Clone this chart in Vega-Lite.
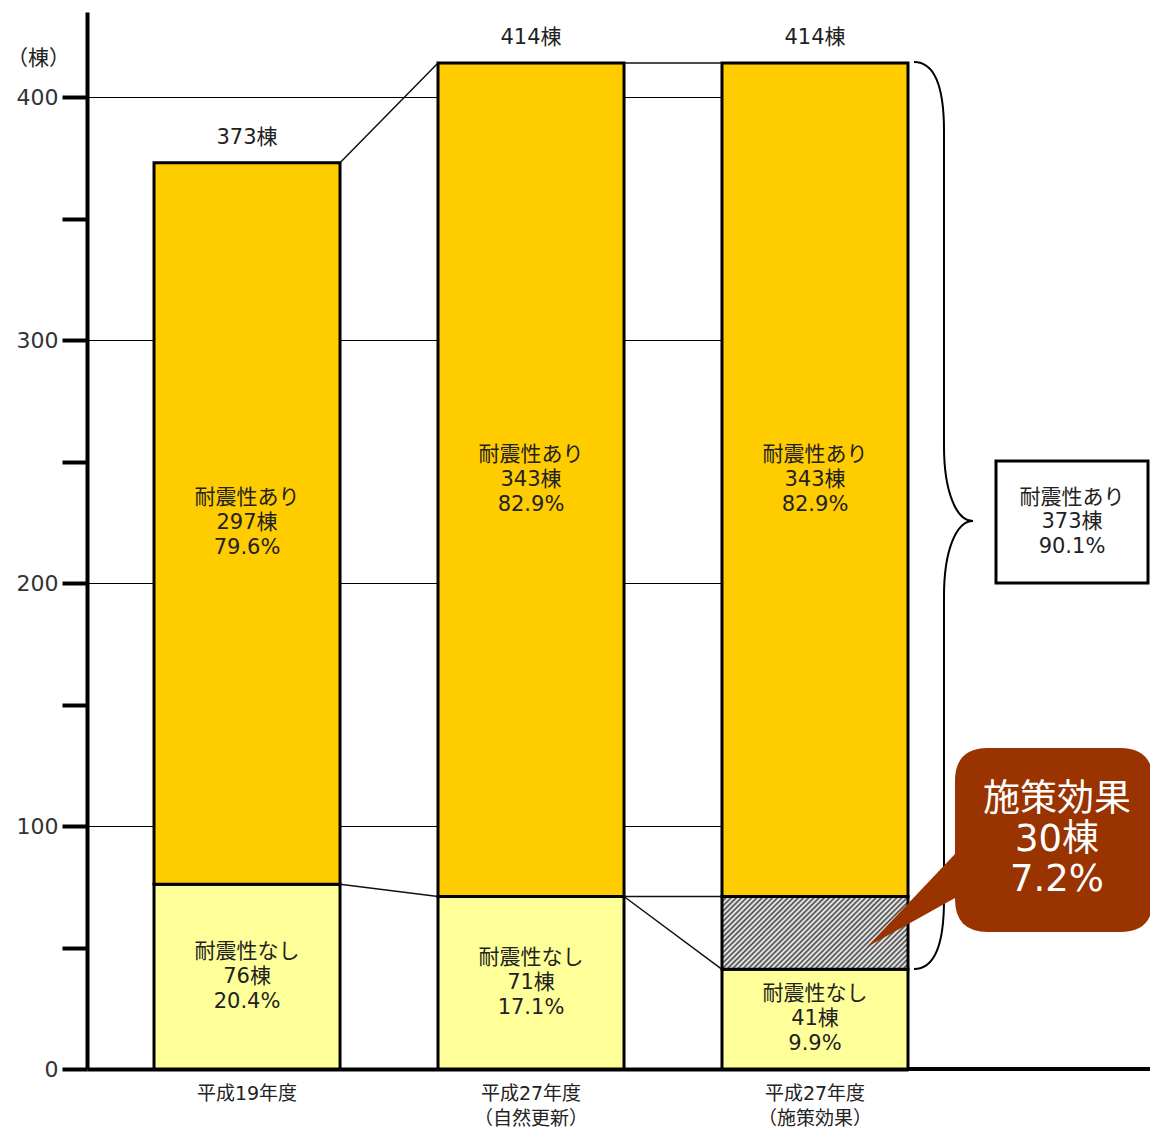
{
  "$schema": "https://vega.github.io/schema/vega-lite/v6.json",
  "width": 821,
  "height": 1057,
  "autosize": {"type": "none"},
  "padding": {"left": 87, "top": 12, "right": 242, "bottom": 62},
  "background": "white",
  "config": {
    "view": {"stroke": null},
    "font": "DejaVu Sans, Noto Sans CJK JP"
  },
  "datasets": {
    "segments": [
      {"年度": "平成19年度", "種別": "耐震性なし", "下": 0, "上": 76, "棟数": 76, "割合": 20.4},
      {"年度": "平成19年度", "種別": "耐震性あり", "下": 76, "上": 373, "棟数": 297, "割合": 79.6},
      {"年度": "平成27年度（自然更新）", "種別": "耐震性なし", "下": 0, "上": 71, "棟数": 71, "割合": 17.1},
      {"年度": "平成27年度（自然更新）", "種別": "耐震性あり", "下": 71, "上": 414, "棟数": 343, "割合": 82.9},
      {"年度": "平成27年度（施策効果）", "種別": "耐震性なし", "下": 0, "上": 41, "棟数": 41, "割合": 9.9},
      {"年度": "平成27年度（施策効果）", "種別": "施策効果", "下": 41, "上": 71, "棟数": 30, "割合": 7.2},
      {"年度": "平成27年度（施策効果）", "種別": "耐震性あり", "下": 71, "上": 414, "棟数": 343, "割合": 82.9}
    ],
    "totals": [
      {"年度": "平成19年度", "合計": 373},
      {"年度": "平成27年度（自然更新）", "合計": 414},
      {"年度": "平成27年度（施策効果）", "合計": 414}
    ],
    "links": [
      {"左": "平成19年度", "右": "平成27年度（自然更新）", "左値": 373, "右値": 414},
      {"左": "平成19年度", "右": "平成27年度（自然更新）", "左値": 76, "右値": 71},
      {"左": "平成27年度（自然更新）", "右": "平成27年度（施策効果）", "左値": 414, "右値": 414},
      {"左": "平成27年度（自然更新）", "右": "平成27年度（施策効果）", "左値": 71, "右値": 71},
      {"左": "平成27年度（自然更新）", "右": "平成27年度（施策効果）", "左値": 71, "右値": 41}
    ]
  },
  "layer": [
    {
      "data": {"name": "segments"},
      "transform": [{"filter": "datum['種別'] !== '施策効果'"}],
      "mark": {"type": "bar", "stroke": "black", "strokeWidth": 3},
      "encoding": {
        "x": {
          "field": "年度", "type": "nominal",
          "scale": {
            "domain": ["平成19年度", "平成27年度（自然更新）", "平成27年度（施策効果）"],
            "paddingInner": 0.345, "paddingOuter": 0.118, "align": 1
          },
          "axis": {
            "title": null, "domain": true, "domainWidth": 4, "domainColor": "black",
            "ticks": false, "labelAngle": 0,
            "labelFontSize": 19, "labelColor": "#222", "labelPadding": 15,
            "labelBaseline": "top", "labelLineHeight": 25, "labelFont": "DejaVu Sans, Noto Sans CJK JP",
            "labelExpr": "indexof(datum.label, '（') > 0 ? [substring(datum.label, 0, indexof(datum.label, '（')), substring(datum.label, indexof(datum.label, '（'))] : datum.label"
          }
        },
        "y": {
          "field": "下", "type": "quantitative",
          "scale": {"domain": [0, 435], "nice": false},
          "axis": {
            "title": "（棟）", "titleAngle": 0, "titleX": -49, "titleY": 46,
            "titleAlign": "center", "titleBaseline": "middle", "titleFontSize": 21,
            "titleFontWeight": "normal", "titleColor": "#222", "titleFont": "Noto Sans CJK JP",
            "values": [0, 50, 100, 150, 200, 250, 300, 350, 400],
            "labelExpr": "datum.value % 100 === 0 ? datum.label : ''",
            "format": "d",
            "labelFontSize": 22, "labelColor": "#333", "labelFont": "DejaVu Sans", "labelPadding": 4,
            "tickSize": 25, "tickWidth": 4, "tickColor": "black",
            "domainWidth": 4, "domainColor": "black",
            "grid": true, "gridColor": "black", "gridWidth": 1,
            "gridOpacity": {"condition": {"test": "datum.value % 100 === 0 && datum.value > 0", "value": 1}, "value": 0}
          }
        },
        "y2": {"field": "上"},
        "color": {
          "field": "種別", "type": "nominal",
          "scale": {"domain": ["耐震性あり", "耐震性なし"], "range": ["#FFCC00", "#FFFF99"]},
          "legend": null
        }
      }
    },
    {
      "data": {"name": "segments"},
      "transform": [{"filter": "datum['種別'] === '施策効果'"}],
      "mark": {
        "type": "bar", "stroke": "black", "strokeWidth": 3,
        "fill": {
          "gradient": "linear", "x1": 0, "y1": 0, "x2": 1.206, "y2": 0.473,
          "stops": [
            {"offset": 0, "color": "#444"}, {"offset": 0.01, "color": "#fff"},
            {"offset": 0.02, "color": "#444"}, {"offset": 0.03, "color": "#fff"},
            {"offset": 0.04, "color": "#444"}, {"offset": 0.05, "color": "#fff"},
            {"offset": 0.06, "color": "#444"}, {"offset": 0.07, "color": "#fff"},
            {"offset": 0.08, "color": "#444"}, {"offset": 0.09, "color": "#fff"},
            {"offset": 0.10, "color": "#444"}, {"offset": 0.11, "color": "#fff"},
            {"offset": 0.12, "color": "#444"}, {"offset": 0.13, "color": "#fff"},
            {"offset": 0.14, "color": "#444"}, {"offset": 0.15, "color": "#fff"},
            {"offset": 0.16, "color": "#444"}, {"offset": 0.17, "color": "#fff"},
            {"offset": 0.18, "color": "#444"}, {"offset": 0.19, "color": "#fff"},
            {"offset": 0.20, "color": "#444"}, {"offset": 0.21, "color": "#fff"},
            {"offset": 0.22, "color": "#444"}, {"offset": 0.23, "color": "#fff"},
            {"offset": 0.24, "color": "#444"}, {"offset": 0.25, "color": "#fff"},
            {"offset": 0.26, "color": "#444"}, {"offset": 0.27, "color": "#fff"},
            {"offset": 0.28, "color": "#444"}, {"offset": 0.29, "color": "#fff"},
            {"offset": 0.30, "color": "#444"}, {"offset": 0.31, "color": "#fff"},
            {"offset": 0.32, "color": "#444"}, {"offset": 0.33, "color": "#fff"},
            {"offset": 0.34, "color": "#444"}, {"offset": 0.35, "color": "#fff"},
            {"offset": 0.36, "color": "#444"}, {"offset": 0.37, "color": "#fff"},
            {"offset": 0.38, "color": "#444"}, {"offset": 0.39, "color": "#fff"},
            {"offset": 0.40, "color": "#444"}, {"offset": 0.41, "color": "#fff"},
            {"offset": 0.42, "color": "#444"}, {"offset": 0.43, "color": "#fff"},
            {"offset": 0.44, "color": "#444"}, {"offset": 0.45, "color": "#fff"},
            {"offset": 0.46, "color": "#444"}, {"offset": 0.47, "color": "#fff"},
            {"offset": 0.48, "color": "#444"}, {"offset": 0.49, "color": "#fff"},
            {"offset": 0.50, "color": "#444"}, {"offset": 0.51, "color": "#fff"},
            {"offset": 0.52, "color": "#444"}, {"offset": 0.53, "color": "#fff"},
            {"offset": 0.54, "color": "#444"}, {"offset": 0.55, "color": "#fff"},
            {"offset": 0.56, "color": "#444"}, {"offset": 0.57, "color": "#fff"},
            {"offset": 0.58, "color": "#444"}, {"offset": 0.59, "color": "#fff"},
            {"offset": 0.60, "color": "#444"}, {"offset": 0.61, "color": "#fff"},
            {"offset": 0.62, "color": "#444"}, {"offset": 0.63, "color": "#fff"},
            {"offset": 0.64, "color": "#444"}, {"offset": 0.65, "color": "#fff"},
            {"offset": 0.66, "color": "#444"}, {"offset": 0.67, "color": "#fff"},
            {"offset": 0.68, "color": "#444"}, {"offset": 0.69, "color": "#fff"},
            {"offset": 0.70, "color": "#444"}, {"offset": 0.71, "color": "#fff"},
            {"offset": 0.72, "color": "#444"}, {"offset": 0.73, "color": "#fff"},
            {"offset": 0.74, "color": "#444"}, {"offset": 0.75, "color": "#fff"},
            {"offset": 0.76, "color": "#444"}, {"offset": 0.77, "color": "#fff"},
            {"offset": 0.78, "color": "#444"}, {"offset": 0.79, "color": "#fff"},
            {"offset": 0.80, "color": "#444"}, {"offset": 0.81, "color": "#fff"},
            {"offset": 0.82, "color": "#444"}, {"offset": 0.83, "color": "#fff"},
            {"offset": 0.84, "color": "#444"}, {"offset": 0.85, "color": "#fff"},
            {"offset": 0.86, "color": "#444"}, {"offset": 0.87, "color": "#fff"},
            {"offset": 0.88, "color": "#444"}, {"offset": 0.89, "color": "#fff"},
            {"offset": 0.90, "color": "#444"}, {"offset": 0.91, "color": "#fff"},
            {"offset": 0.92, "color": "#444"}, {"offset": 0.93, "color": "#fff"},
            {"offset": 0.94, "color": "#444"}, {"offset": 0.95, "color": "#fff"},
            {"offset": 0.96, "color": "#444"}, {"offset": 0.97, "color": "#fff"},
            {"offset": 0.98, "color": "#444"}, {"offset": 0.99, "color": "#fff"},
            {"offset": 1, "color": "#444"}
          ]
        }
      },
      "encoding": {
        "x": {"field": "年度", "type": "nominal"},
        "y": {"field": "下", "type": "quantitative"},
        "y2": {"field": "上"}
      }
    },
    {
      "data": {"name": "links"},
      "mark": {"type": "rule", "stroke": "#111", "strokeWidth": 1.5},
      "encoding": {
        "x": {"field": "左", "type": "nominal", "bandPosition": 1},
        "x2": {"field": "右", "bandPosition": 0},
        "y": {"field": "左値", "type": "quantitative"},
        "y2": {"field": "右値"}
      }
    },
    {
      "data": {"name": "segments"},
      "transform": [
        {"filter": "datum['種別'] !== '施策効果'"},
        {"calculate": "(datum['下'] + datum['上']) / 2", "as": "中央"},
        {"calculate": "datum['種別'] + '\\n' + datum['棟数'] + '棟\\n' + format(datum['割合'], '.1f') + '%'", "as": "ラベル"}
      ],
      "mark": {"type": "text", "fontSize": 21, "lineHeight": 25, "lineBreak": "\n", "baseline": "middle", "align": "center", "color": "#222", "dy": -25},
      "encoding": {
        "x": {"field": "年度", "type": "nominal"},
        "y": {"field": "中央", "type": "quantitative"},
        "text": {"field": "ラベル"}
      }
    },
    {
      "data": {"name": "totals"},
      "transform": [{"calculate": "datum['合計'] + '棟'", "as": "ラベル"}],
      "mark": {"type": "text", "fontSize": 21, "baseline": "middle", "align": "center", "dy": -25, "color": "#222"},
      "encoding": {
        "x": {"field": "年度", "type": "nominal"},
        "y": {"field": "合計", "type": "quantitative"},
        "text": {"field": "ラベル"}
      }
    },
    {
      "data": {"values": [{"範囲": "耐震性あり（施策効果を含む）"}]},
      "mark": {
        "type": "point", "filled": false, "opacity": 1, "stroke": "black", "strokeWidth": 2,
        "size": 40000, "xOffset": 129,
        "shape": "M -0.30 -4.59 C -0.12 -4.59 0 -4.40 0 -3.90 L 0 -0.75 C 0 -0.30 0.12 0 0.29 0 C 0.12 0 0 0.30 0 0.75 L 0 3.79 C 0 4.29 -0.12 4.48 -0.30 4.48"
      },
      "encoding": {
        "x": {"datum": "平成27年度（施策効果）", "type": "nominal"},
        "y": {"datum": 225.5, "type": "quantitative"}
      }
    },
    {
      "data": {"values": [{"項目": "耐震性あり", "棟数": 373, "割合": 90.1}]},
      "mark": {
        "type": "point", "filled": true, "opacity": 1, "fill": "white", "stroke": "black", "strokeWidth": 3,
        "size": 40000, "xOffset": 257,
        "shape": "M -0.76 -0.61 L 0.76 -0.61 L 0.76 0.61 L -0.76 0.61 Z"
      },
      "encoding": {
        "x": {"datum": "平成27年度（施策効果）", "type": "nominal"},
        "y": {"datum": 225.1, "type": "quantitative"}
      }
    },
    {
      "data": {"values": [{"項目": "耐震性あり", "棟数": 373, "割合": 90.1}]},
      "transform": [{"calculate": "datum['項目'] + '\\n' + datum['棟数'] + '棟\\n' + format(datum['割合'], '.1f') + '%'", "as": "ラベル"}],
      "mark": {"type": "text", "fontSize": 21, "lineHeight": 24.5, "lineBreak": "\n", "baseline": "middle", "align": "center", "color": "#222", "xOffset": 257, "dy": -24.5},
      "encoding": {
        "x": {"datum": "平成27年度（施策効果）", "type": "nominal"},
        "y": {"datum": 225.1, "type": "quantitative"},
        "text": {"field": "ラベル"}
      }
    },
    {
      "data": {"values": [{"項目": "施策効果", "棟数": 30, "割合": 7.2}]},
      "mark": {
        "type": "point", "filled": true, "opacity": 1, "fill": "#993300", "strokeWidth": 0,
        "size": 40000, "xOffset": 238,
        "shape": "M -0.65 -0.92 L 0.67 -0.92 Q 1.0 -0.92 1.0 -0.59 L 1.0 0.59 Q 1.0 0.92 0.67 0.92 L -0.65 0.92 Q -0.98 0.92 -0.98 0.59 L -0.98 0.58 L -1.86 1.07 L -0.98 0.14 L -0.98 -0.59 Q -0.98 -0.92 -0.65 -0.92 Z"
      },
      "encoding": {
        "x": {"datum": "平成27年度（施策効果）", "type": "nominal"},
        "y": {"datum": 94.2, "type": "quantitative"}
      }
    },
    {
      "data": {"values": [{"項目": "施策効果", "棟数": 30, "割合": 7.2}]},
      "transform": [{"calculate": "datum['項目'] + '\\n' + datum['棟数'] + '棟\\n' + format(datum['割合'], '.1f') + '%'", "as": "ラベル"}],
      "mark": {"type": "text", "fontSize": 37, "lineHeight": 40, "lineBreak": "\n", "baseline": "middle", "align": "center", "color": "white", "xOffset": 242, "dy": -40},
      "encoding": {
        "x": {"datum": "平成27年度（施策効果）", "type": "nominal"},
        "y": {"datum": 94.2, "type": "quantitative"},
        "text": {"field": "ラベル"}
      }
    },
    {
      "data": {"values": [{}]},
      "mark": {"type": "rule", "color": "black", "strokeWidth": 4, "x2Offset": 244},
      "encoding": {
        "x": {"datum": "平成27年度（施策効果）", "type": "nominal", "bandPosition": 1},
        "x2": {"datum": "平成27年度（施策効果）", "bandPosition": 1},
        "y": {"datum": 0, "type": "quantitative"}
      }
    }
  ]
}
